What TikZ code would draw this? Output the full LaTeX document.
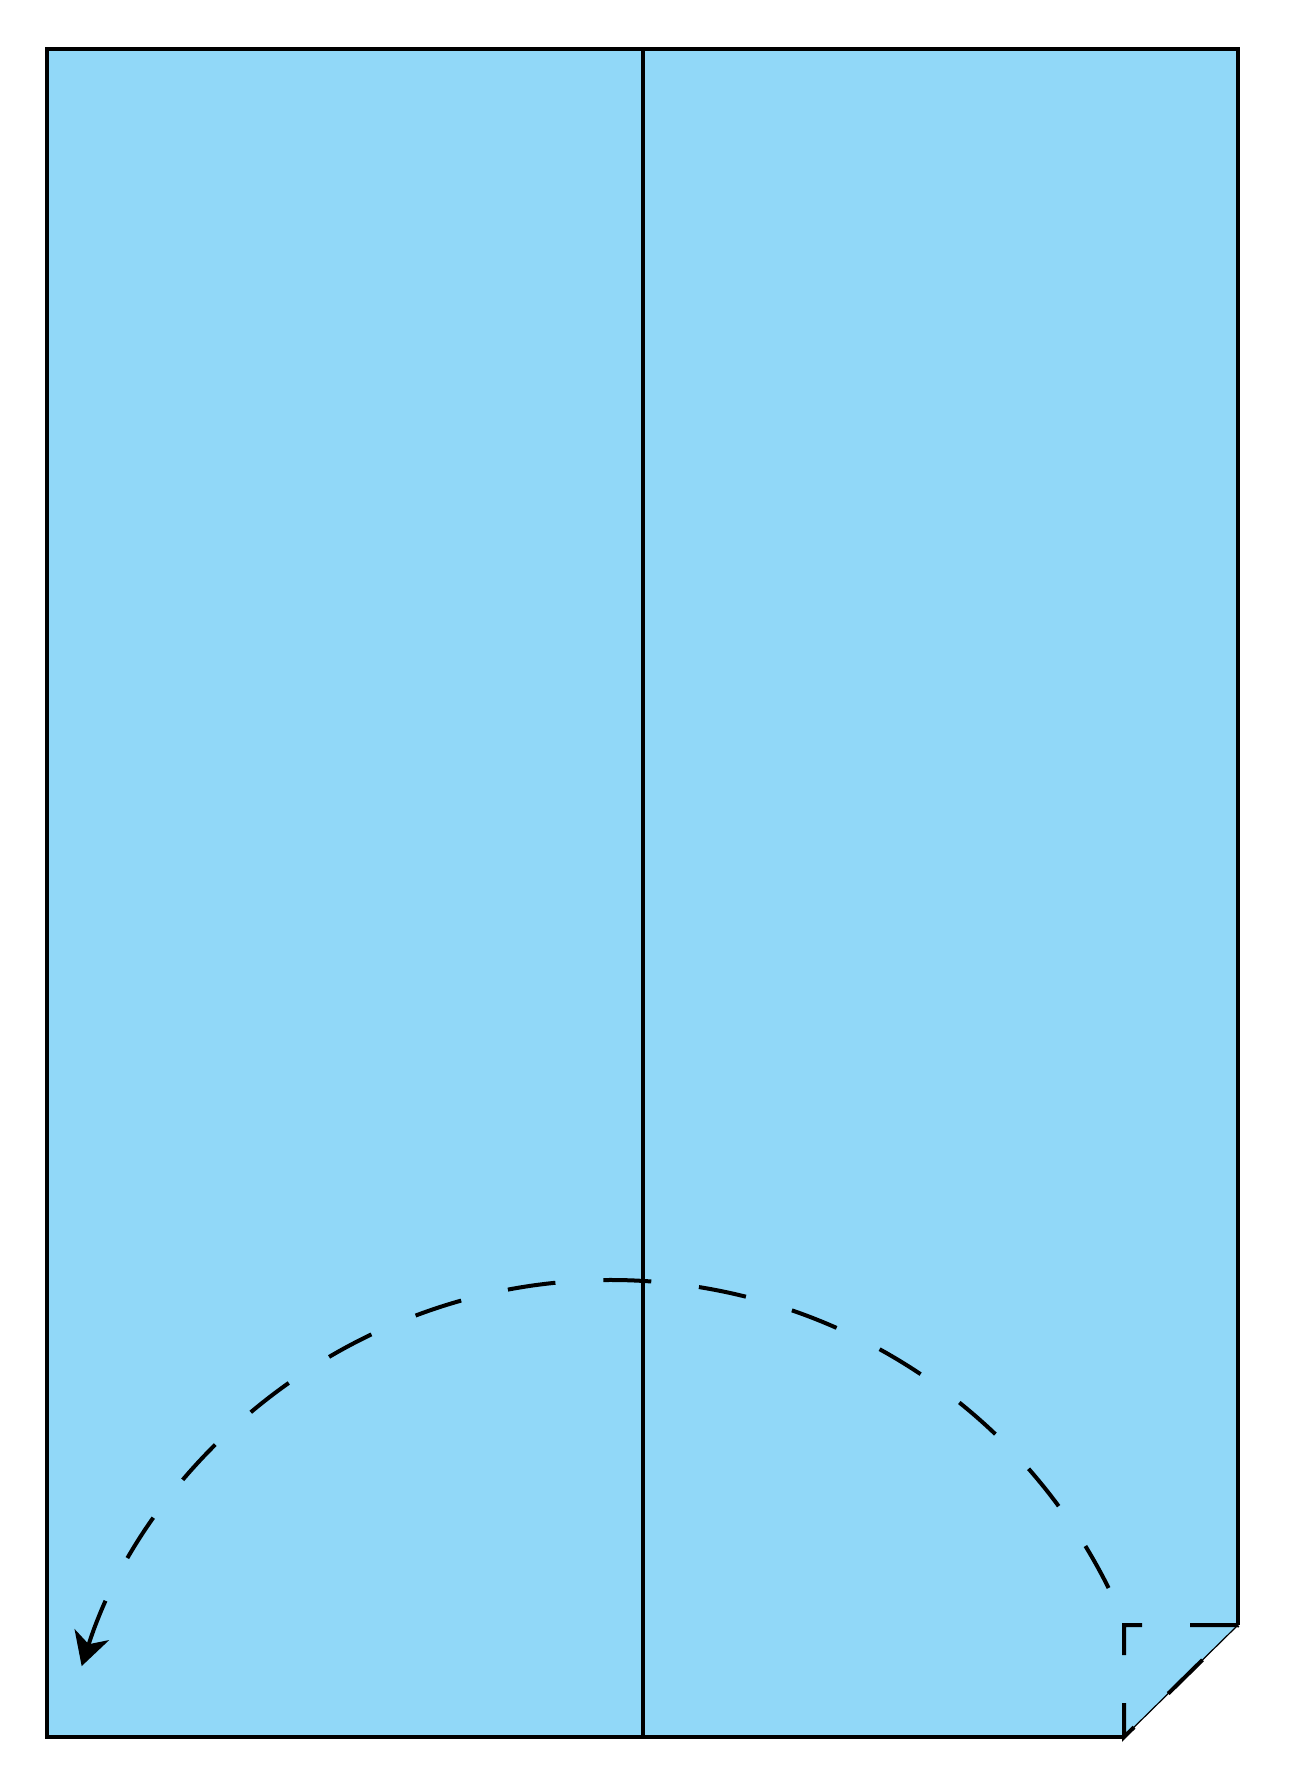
\documentclass[tikz,border=0pt]{standalone}
\usetikzlibrary{arrows.meta}
\definecolor{paper}{RGB}{145,216,248}
\begin{document}
\begin{tikzpicture}[x=0.5pt,y=-0.5pt,
  edge/.style={line width=2pt},
  thinedge/.style={line width=0.6pt},
  fold/.style={line width=2pt, dash pattern=on 24pt off 24pt}]
\useasboundingbox (0,0) rectangle (1296,1788);
\coordinate (tl) at (47,49);
\coordinate (tr) at (1238,49);
\coordinate (cr) at (1238,1625);
\coordinate (cb) at (1124,1737);
\coordinate (bl) at (47,1737);
\coordinate (sq) at (1124,1625);
\coordinate (mt) at (643,49);
\coordinate (mb) at (643,1737);
\coordinate (arcstart) at (1108.6,1588);
\fill[paper] (tl) -- (tr) -- (cr) -- (cb) -- (bl) -- cycle;
\draw[edge] (cb) -- (bl) -- (tl) -- (tr) -- (cr);
\draw[thinedge] (cr) -- (cb);
\draw[edge] (mt) -- (mb);
\draw[fold] (cr) -- (sq) -- (cb) -- (cr);
\draw[fold, -{Stealth[length=16.5pt, width=18pt, inset=5pt]}] (arcstart) arc[start angle=-26.5, end angle=-162.2, radius=556];
\end{tikzpicture}
\end{document}
